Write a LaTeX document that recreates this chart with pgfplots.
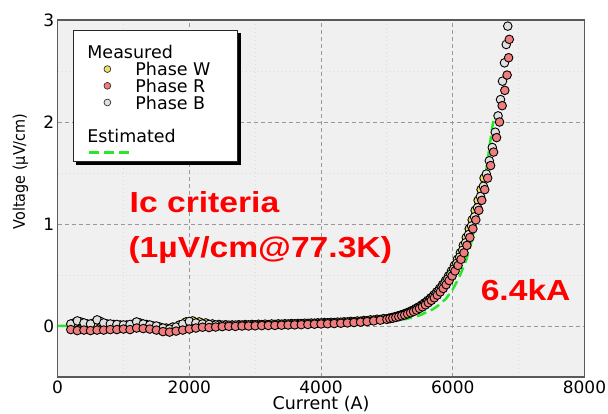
\documentclass[border=0pt]{standalone}
\usepackage{fontspec}
\setmainfont{DejaVu Sans}
\newfontfamily\condfont[FakeStretch=0.9]{DejaVu Sans}
\newfontfamily\annfont[FakeStretch=1.16]{Liberation Sans}
\usepackage{pgfplots}
\pgfplotsset{compat=1.18}
\definecolor{Wcol}{RGB}{236,226,96}
\definecolor{Rcol}{RGB}{240,125,125}
\definecolor{Bcol}{RGB}{224,224,224}
\definecolor{Gcol}{RGB}{40,230,40}
\definecolor{bgcol}{RGB}{240,240,240}
\newcommand{\legtxt}[1]{\makebox[102pt][l]{#1}\rule[-2pt]{0pt}{16.7pt}}
\begin{document}
\begin{tikzpicture}
\useasboundingbox (0,0) rectangle (608pt,414pt);
\begin{axis}[
 at={(57.6pt,37pt)}, anchor=south west,
 scale only axis, width=526.9pt, height=357pt,
 xmin=0, xmax=8000, ymin=-0.5, ymax=3,
 xtick={0,2000,4000,6000,8000}, ytick={0,1,2,3},
 minor xtick={1000,3000,5000,7000}, minor ytick={0.5,1.5,2.5},
 grid=both,
 major grid style={draw=black!40, dash pattern=on 4pt off 3pt, line width=0.9pt},
 minor grid style={draw=black!14, dash pattern=on 1pt off 3pt, line width=0.9pt},
 major tick length=0pt, minor tick length=0pt,
 axis background/.style={fill=bgcol},
 axis line style={draw=black!65, line width=1.6pt},
 tick label style={font=\fontsize{17}{20}\selectfont},
 /pgf/number format/assume math mode=true,
 /pgf/number format/1000 sep={},
 xlabel={Current (A)}, ylabel={Voltage (µV/cm)},
 every axis x label/.style={at={(rel axis cs:0.5,-0.091)}, anchor=base, font=\fontsize{17.5}{20}\selectfont},
 every axis y label/.style={at={(rel axis cs:-0.0619,0.5756)}, anchor=base, rotate=90, font=\condfont\fontsize{16}{19}\selectfont},
 legend style={name=mylegend, at={(0.0292,0.972)}, anchor=north west, draw=black!85, line width=0.8pt, fill=white,
   inner sep=0pt, column sep=0pt, row sep=0pt, cells={anchor=west}, nodes={inner sep=0pt},
   font=\fontsize{17.5}{20}\selectfont},
]
\addlegendimage{legend image code/.code={\path[draw=none,fill=none] (0pt,-8.35pt) rectangle (62pt,22pt);}}
\addlegendentry{\legtxt{\hspace*{-48pt}Measured}}
\addlegendimage{legend image code/.code={\path[draw=none,fill=none] (0pt,-8.35pt) rectangle (62pt,8.35pt);
  \draw[fill=Wcol,draw=black!80,line width=0.7pt] (34pt,0pt) circle[radius=3.4pt];}}
\addlegendentry{\legtxt{Phase W}}
\addlegendimage{legend image code/.code={\path[draw=none,fill=none] (0pt,-8.35pt) rectangle (62pt,8.35pt);
  \draw[fill=Rcol,draw=black!80,line width=0.7pt] (34pt,0pt) circle[radius=3.4pt];}}
\addlegendentry{\legtxt{Phase R}}
\addlegendimage{legend image code/.code={\path[draw=none,fill=none] (0pt,-8.35pt) rectangle (62pt,8.35pt);
  \draw[fill=Bcol,draw=black!80,line width=0.7pt] (34pt,0pt) circle[radius=3.4pt];}}
\addlegendentry{\legtxt{Phase B}}
\addlegendimage{legend image code/.code={\path[draw=none,fill=none] (0pt,-8.35pt) rectangle (62pt,8.35pt);}}
\addlegendentry{\legtxt{}}
\addlegendimage{legend image code/.code={\path[draw=none,fill=none] (0pt,-8.35pt) rectangle (62pt,8.35pt);}}
\addlegendentry{\legtxt{\hspace*{-48pt}Estimated}}
\addlegendimage{legend image code/.code={\path[draw=none,fill=none] (0pt,-9pt) rectangle (62pt,8.35pt);
  \draw[draw=Gcol,line width=2.5pt,dash pattern=on 10pt off 5pt] (16pt,0pt) -- (56pt,0pt);}}
\addlegendentry{\legtxt{}}

% Phase W
\addplot[forget plot, only marks, mark=*, mark size=4.3pt, mark options={fill=Wcol, draw=black, line width=0.9pt}] coordinates {
(250,0.03)(350,0.04)(450,0.02)(550,0.03)(650,0.045)(750,0.02)(850,0.015)(950,0.01)(1050,0.01)(1150,0.02)
(1250,0.03)(1350,0.015)(1450,0)(1550,-0.01)(1650,-0.02)(1750,-0.01)(1850,0.01)(1950,0.04)(2050,0.05)(2150,0.04)
(2250,0.03)(2350,0.02)(2450,0.015)(2550,0.012)(2650,0.01)(2750,0.012)(2850,0.014)(2950,0.015)(3050,0.017)(3150,0.018)
(3250,0.02)(3350,0.021)(3450,0.022)(3550,0.024)(3650,0.025)(3750,0.027)(3850,0.029)(3950,0.031)(4050,0.034)(4150,0.036)
(4250,0.038)(4350,0.041)(4450,0.045)(4550,0.049)(4650,0.054)(4750,0.06)(4850,0.066)(4950,0.072)
(5035,0.077)(5080,0.084)(5125,0.091)(5170,0.100)(5215,0.108)(5260,0.119)(5305,0.130)(5350,0.142)(5395,0.156)(5440,0.172)
(5485,0.188)(5530,0.207)(5575,0.228)(5620,0.251)(5665,0.276)(5710,0.303)(5755,0.334)(5800,0.368)(5845,0.405)(5890,0.446)
(5935,0.491)(5980,0.540)(6025,0.594)(6070,0.653)(6115,0.718)(6160,0.790)(6205,0.868)(6250,0.953)(6295,1.04)(6340,1.134)
(6385,1.232)(6430,1.337)(6475,1.45)
};
% Phase B
\addplot[forget plot, only marks, mark=*, mark size=4.3pt, mark options={fill=Bcol, draw=black, line width=0.9pt}] coordinates {
(200,0.02)(300,0.05)(400,0.03)(500,0.02)(600,0.06)(700,0.03)(800,0.02)(900,0.015)(1000,0.01)(1100,0.015)
(1200,0.04)(1300,0.02)(1400,0.01)(1500,0)(1600,-0.02)(1700,-0.03)(1800,-0.01)(1900,0.02)(2000,0.045)(2100,0.03)
(2200,0.02)(2300,0.015)(2400,0.01)(2500,0.008)(2600,0.008)(2700,0.009)(2800,0.01)(2900,0.011)(3000,0.012)(3100,0.013)
(3200,0.014)(3300,0.016)(3400,0.018)(3500,0.02)(3600,0.022)(3700,0.024)(3800,0.026)(3900,0.028)(4000,0.03)(4100,0.032)
(4200,0.034)(4300,0.037)(4400,0.04)(4500,0.043)(4600,0.047)(4700,0.052)(4800,0.058)(4900,0.064)(5000,0.07)
(5025,0.074)(5070,0.079)(5115,0.086)(5160,0.094)(5205,0.103)(5250,0.112)(5295,0.123)(5340,0.134)(5385,0.147)(5430,0.161)
(5475,0.177)(5520,0.194)(5565,0.214)(5610,0.236)(5655,0.259)(5700,0.285)(5745,0.313)(5790,0.345)(5835,0.380)(5880,0.419)
(5925,0.461)(5970,0.507)(6015,0.558)(6060,0.614)(6105,0.675)(6150,0.742)(6195,0.816)(6240,0.896)(6285,0.981)(6330,1.07)
(6375,1.16)(6420,1.27)(6465,1.37)(6510,1.49)(6555,1.62)(6600,1.75)(6645,1.90)(6688,2.06)(6725,2.22)(6755,2.40)
(6785,2.58)(6812,2.76)(6835,2.94)
};
% Phase R
\addplot[forget plot, only marks, mark=*, mark size=4.3pt, mark options={fill=Rcol, draw=black, line width=0.9pt}] coordinates {
(200,-0.035)(300,-0.045)(400,-0.04)(500,-0.045)(600,-0.04)(700,-0.04)(800,-0.035)(900,-0.035)(1000,-0.03)(1100,-0.035)
(1200,-0.02)(1300,-0.025)(1400,-0.03)(1500,-0.04)(1600,-0.055)(1700,-0.06)(1800,-0.05)(1900,-0.04)(2000,-0.03)(2100,-0.02)
(2200,-0.012)(2300,-0.015)(2400,-0.01)(2500,-0.006)(2600,-0.003)(2700,-0.004)(2800,0)(2900,0)(3000,0.002)(3100,0.004)
(3200,0.005)(3300,0.006)(3400,0.008)(3500,0.01)(3600,0.011)(3700,0.013)(3800,0.015)(3900,0.018)(4000,0.02)(4100,0.022)
(4200,0.024)(4300,0.027)(4400,0.030)(4500,0.034)(4600,0.038)(4700,0.043)(4800,0.05)(4900,0.057)(5000,0.065)
(5045,0.072)(5090,0.077)(5135,0.084)(5180,0.091)(5225,0.100)(5270,0.108)(5315,0.119)(5360,0.130)(5405,0.142)(5450,0.156)
(5495,0.172)(5540,0.188)(5585,0.207)(5630,0.228)(5675,0.251)(5720,0.276)(5765,0.303)(5810,0.334)(5855,0.368)(5900,0.405)
(5945,0.446)(5990,0.491)(6035,0.540)(6080,0.594)(6125,0.653)(6170,0.718)(6215,0.790)(6260,0.868)(6305,0.953)(6350,1.04)
(6395,1.134)(6440,1.232)(6485,1.337)(6530,1.450)(6575,1.573)(6620,1.705)(6665,1.847)(6710,2.00)(6750,2.16)(6790,2.31)
(6825,2.46)(6848,2.63)(6858,2.81)
};
% Estimated
\addplot[forget plot, no marks, draw=Gcol, line width=2.5pt, dash pattern=on 10pt off 5pt] coordinates {
(0,0)(500,0)(1000,0)(1500,0.001)(2000,0.002)(2500,0.004)(3000,0.006)(3500,0.009)(4000,0.013)(4500,0.022)
(5000,0.042)(5300,0.07)(5500,0.105)(5700,0.165)(5800,0.21)(5900,0.27)(6000,0.36)(6100,0.48)(6200,0.64)(6300,0.86)
(6400,1.13)(6500,1.49)(6600,1.95)(6635,2.07)
};
\node[anchor=base west, text=red, inner sep=0pt, font=\annfont\bfseries\fontsize{29}{35}\selectfont] at (axis cs:1092,1.115) {Ic criteria};
\node[anchor=base west, text=red, inner sep=0pt, font=\annfont\bfseries\fontsize{29}{35}\selectfont] at (axis cs:1074,0.673) {(1µV/cm@77.3K)};
\node[anchor=base west, text=red, inner sep=0pt, font=\annfont\bfseries\fontsize{29}{35}\selectfont] at (axis cs:6422,0.248) {6.4kA};
\end{axis}
\fill[black] ([yshift=-3pt]mylegend.north east) rectangle ([xshift=3pt,yshift=-3pt]mylegend.south east);
\fill[black] ([xshift=3pt]mylegend.south west) rectangle ([xshift=3pt,yshift=-3pt]mylegend.south east);
\end{tikzpicture}
\end{document}
